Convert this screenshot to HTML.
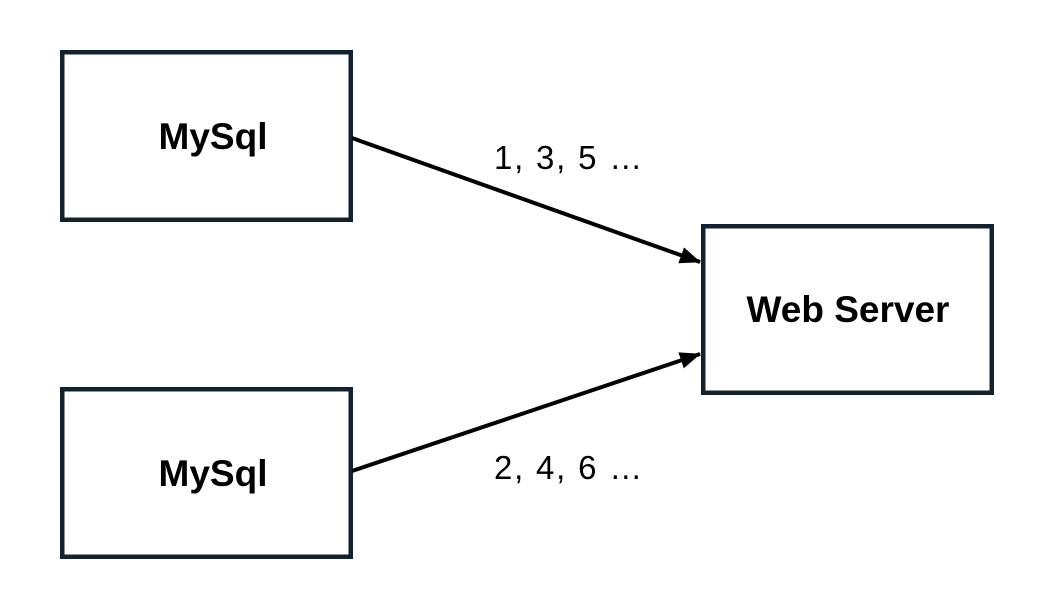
<!DOCTYPE html>
<html><head><meta charset="utf-8"><style>
html,body{margin:0;padding:0;background:#fff;}
svg{display:block}
</style></head><body>
<svg width="1052" height="612" viewBox="0 0 1052 612" xmlns="http://www.w3.org/2000/svg">
<defs>
<marker id="a" markerWidth="6" markerHeight="6" refX="5" refY="3" orient="auto" markerUnits="strokeWidth">
<path d="M0,0.9 L5.2,3 L0,5.1 z" fill="#000"/>
</marker>
</defs>
<g fill="#fff" stroke="#13222f" stroke-width="4.5">
<rect x="62.25" y="52.25" width="288.5" height="167.5"/>
<rect x="62.25" y="389.25" width="288.5" height="167.5"/>
<rect x="703.25" y="226.25" width="288.5" height="166.5"/>
</g>
<g stroke="#000" stroke-width="4" fill="none">
<line x1="352" y1="138" x2="700" y2="262" marker-end="url(#a)"/>
<line x1="352" y1="471" x2="700" y2="354" marker-end="url(#a)"/>
</g>
<g font-family="'Liberation Sans', 'Noto Sans CJK KR', sans-serif" text-anchor="middle" fill="#000">
<text x="213" y="149" font-size="37" font-weight="bold">MySql</text>
<text x="213" y="486" font-size="37" font-weight="bold">MySql</text>
<text x="848" y="322" font-size="37" font-weight="bold">Web Server</text>
<text x="569" y="169" font-size="33" letter-spacing="1.8">1, 3, 5 …</text>
<text x="569" y="479" font-size="33" letter-spacing="1.8">2, 4, 6 …</text>
</g>
</svg>
</body></html>
